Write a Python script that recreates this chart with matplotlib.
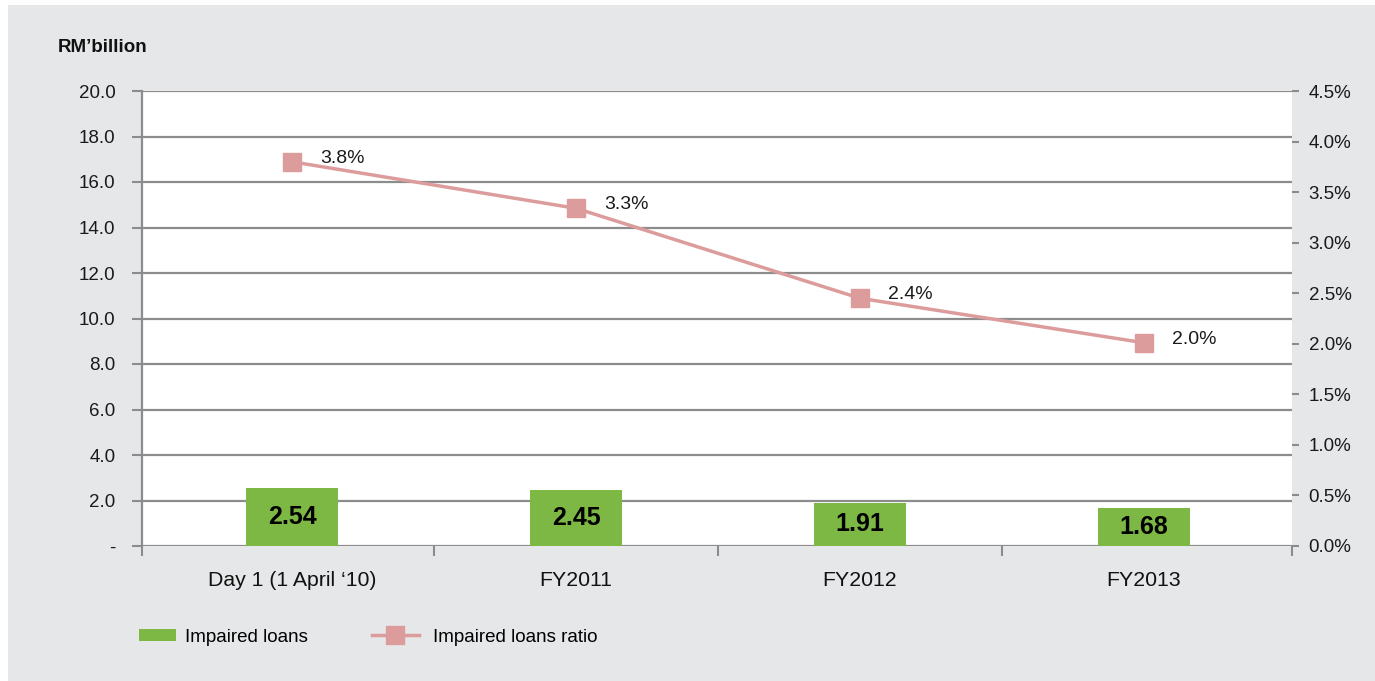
import matplotlib
matplotlib.use("Agg")
import matplotlib.pyplot as plt
from matplotlib.patches import Rectangle
from matplotlib.lines import Line2D
from matplotlib.patches import Patch

plt.rcParams['font.family'] = ['Liberation Sans', 'DejaVu Sans']

categories = ["Day 1 (1 April \u201810)", "FY2011", "FY2012", "FY2013"]
impaired_loans = [2.54, 2.45, 1.91, 1.68]
impaired_ratio = [3.80, 3.34, 2.45, 2.01]
ratio_labels = ["3.8%", "3.3%", "2.4%", "2.0%"]
left_ticks = [0, 2, 4, 6, 8, 10, 12, 14, 16, 18, 20]
right_ticks = [0, 0.5, 1.0, 1.5, 2.0, 2.5, 3.0, 3.5, 4.0, 4.5]

W, H = 1375, 681
fig = plt.figure(figsize=(W / 100, H / 100), dpi=100)
fig.patch.set_facecolor('white')
fig.add_artist(Rectangle((8 / W, 0), 1 - 8 / W, 1 - 5 / H, transform=fig.transFigure,
                         facecolor='#e6e7e8', edgecolor='none', zorder=-10))

grid_c = '#8c8c8c'
green = '#7cb843'
pink = '#dd9c9c'
txt_c = '#1a1a1a'

ax = fig.add_axes([142 / W, 1 - 546 / H, 1150 / W, 455 / H])
ax.set_facecolor('white')
x = list(range(len(categories)))
ax.set_xlim(-0.528, 3.521)
ax.set_ylim(0, 20)
ax.set_yticks(left_ticks)
ax.set_yticklabels(['-' if v == 0 else f"{v:.1f}" for v in left_ticks], fontsize=13.5, color=txt_c)
for v in left_ticks:
    ax.axhline(v, color=grid_c, lw=1.6, zorder=1)
for s in ['top', 'right', 'bottom']:
    ax.spines[s].set_visible(False)
ax.spines['left'].set_color(grid_c)
ax.spines['left'].set_linewidth(1.6)
ax.tick_params(axis='y', colors=grid_c, labelcolor=txt_c, length=7, width=1.5, pad=12)

ax.bar(x, impaired_loans, width=0.324, color=green, zorder=2)
for xi, v in zip(x, impaired_loans):
    ax.text(xi, v / 2, f"{v:.2f}", ha='center', va='center', fontsize=18,
            fontweight='bold', color='black', zorder=5)

ax.set_xticks([i + 0.5 for i in x[:-1]] + [-0.528, 3.521])
ax.set_xticklabels([])
ax.tick_params(axis='x', colors=grid_c, length=7, width=1.5, direction='out')
for xi, c in zip(x, categories):
    ax.text(xi, -1.5, c, ha='center', va='center', fontsize=15.3, color='#111111')

ax2 = ax.twinx()
ax2.set_ylim(0, 4.5)
ax2.set_yticks(right_ticks)
ax2.set_yticklabels([f"{v:.1f}%" for v in right_ticks], fontsize=13.5, color=txt_c)
for s in ['top', 'left', 'bottom', 'right']:
    ax2.spines[s].set_visible(False)
ax2.tick_params(axis='y', colors=grid_c, labelcolor=txt_c, length=5, width=1.5, pad=7)
ax2.plot(x, impaired_ratio, color=pink, lw=2.5, marker='s', markersize=13,
         markerfacecolor=pink, markeredgecolor=pink, zorder=4)
for xi, v, lab in zip(x, impaired_ratio, ratio_labels):
    ax2.annotate(lab, (xi, v), xytext=(20, 2.5), textcoords='offset points',
                 ha='left', va='center', fontsize=14, color=txt_c)

fig.text(58 / W, 1 - 47 / H, "RM\u2019billion", fontsize=13.5, fontweight='bold',
         ha='left', va='center', color='#111111')

h_bar = Patch(facecolor=green, edgecolor='none')
h_line = Line2D([0], [0], color=pink, lw=2.5, marker='s', markersize=13,
                markerfacecolor=pink, markeredgecolor=pink)
leg1 = fig.legend([h_bar], ["Impaired loans"],
                  loc='center left', bbox_to_anchor=(122 / W, 1 - 637 / H),
                  frameon=False, fontsize=13.5, handlelength=2.0, handleheight=0.55,
                  handletextpad=0.45)
fig.legend([h_line], ["Impaired loans ratio"],
           loc='center left', bbox_to_anchor=(355 / W, 1 - 637 / H),
           frameon=False, fontsize=13.5, handlelength=2.5, handleheight=0.55,
           handletextpad=0.75)

fig.savefig("out.png", dpi=100, facecolor=fig.get_facecolor())
